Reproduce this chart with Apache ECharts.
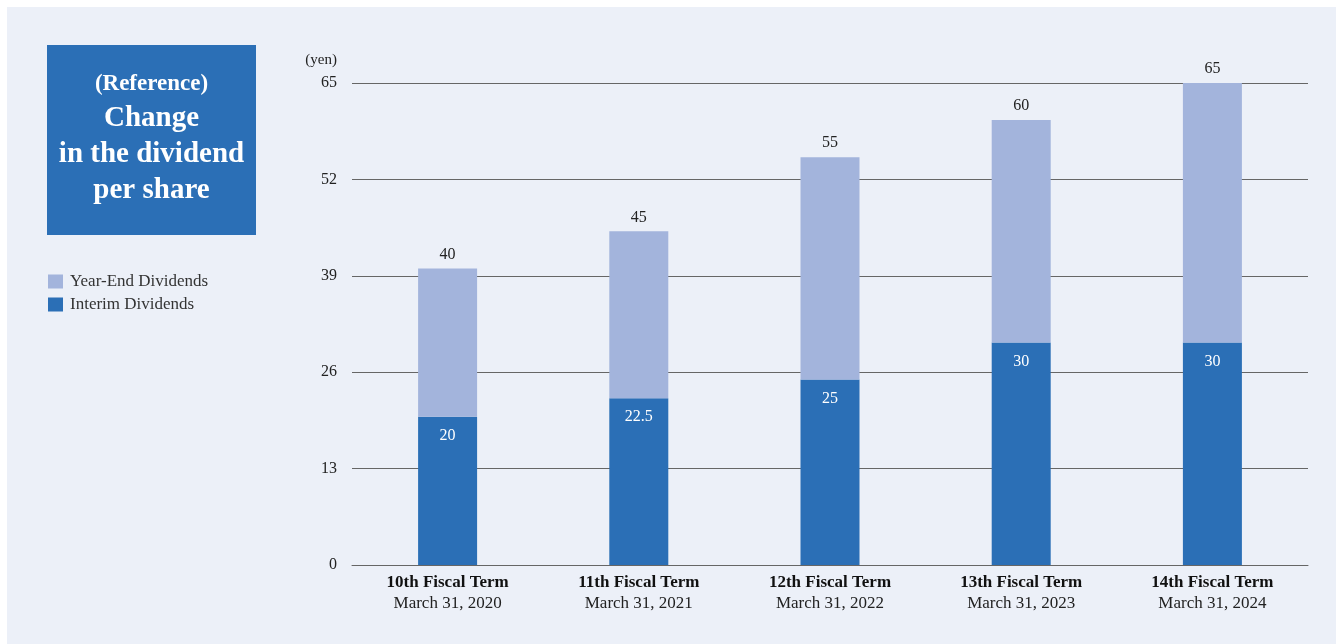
<!DOCTYPE html>
<html><head><meta charset="utf-8">
<script src="https://cdn.jsdelivr.net/npm/echarts@6/dist/echarts.min.js"></script>
<style>
html,body{margin:0;padding:0;background:#ffffff;}
#panel{position:absolute;left:7px;top:7px;width:1329px;height:637px;background:#ecf0f8;}
#chart{position:absolute;left:0;top:0;width:1336px;height:644px;}
</style></head>
<body>
<div id="panel"></div>
<div id="chart"></div>
<script>
const terms = ['10th Fiscal Term','11th Fiscal Term','12th Fiscal Term','13th Fiscal Term','14th Fiscal Term'];
const dates = ['March 31, 2020','March 31, 2021','March 31, 2022','March 31, 2023','March 31, 2024'];
const interim = [20, 22.5, 25, 30, 30];
const yearEnd = [20, 22.5, 30, 30, 35];
const totals = [40, 45, 55, 60, 65];
const yTicks = [0, 13, 26, 39, 52, 65];
const seriesNames = ['Interim Dividends', 'Year-End Dividends'];

const FONT = "'Liberation Serif','Times New Roman',serif";
const chart = echarts.init(document.getElementById('chart'), null, {renderer:'canvas'});
chart.setOption({
  backgroundColor: 'transparent',
  animation: false,
  textStyle: {fontFamily: FONT},
  grid: {left: 352, right: 28, top: 83, bottom: 79},
  legend: {
    orient: 'vertical', left: 48, top: 273, padding: 0, itemWidth: 15, itemHeight: 14, itemGap: 6,
    icon: 'rect',
    data: [seriesNames[1], seriesNames[0]],
    textStyle: {fontFamily: FONT, fontSize: 17, color: '#333', padding: [0,0,0,2]}
  },
  graphic: [
    {type:'rect', left: 47, top: 45, shape:{width:209, height:190}, style:{fill:'#2b6fb6'}},
    {type:'text', x:151.5, y:84, style:{text:'(Reference)', fill:'#fff', font:'bold 23px '+FONT, align:'center', verticalAlign:'middle'}},
    {type:'text', x:151.5, y:119, style:{text:'Change', fill:'#fff', font:'bold 29px '+FONT, align:'center', verticalAlign:'middle'}},
    {type:'text', x:151.5, y:155, style:{text:'in the dividend', fill:'#fff', font:'bold 29px '+FONT, align:'center', verticalAlign:'middle'}},
    {type:'text', x:151.5, y:191, style:{text:'per share', fill:'#fff', font:'bold 29px '+FONT, align:'center', verticalAlign:'middle'}},
    {type:'text', x:337, y:60, style:{text:'(yen)', fill:'#222', font:'15px '+FONT, align:'right', verticalAlign:'middle'}}
  ],
  xAxis: {
    type: 'category',
    data: terms,
    axisLine: {lineStyle: {color: '#666', width: 1}},
    axisTick: {show: false},
    axisLabel: {
      margin: 7,
      formatter: (v, i) => '{b|' + v + '}\n{d|' + dates[i] + '}',
      rich: {
        b: {fontFamily: FONT, fontSize: 17, fontWeight: 'bold', color: '#111', lineHeight: 21},
        d: {fontFamily: FONT, fontSize: 17, color: '#222', lineHeight: 21}
      }
    }
  },
  yAxis: {
    type: 'value', min: 0, max: 65, interval: 13,
    axisLine: {show: false}, axisTick: {show: false},
    axisLabel: {margin: 15, fontFamily: FONT, fontSize: 16, color: '#222',
      formatter: v => yTicks.includes(v) ? String(v) : ''},
    splitLine: {lineStyle: {color: '#666', width: 1}}
  },
  series: [
    {
      name: seriesNames[0], type: 'bar', stack: 'd', data: interim, barWidth: 59,
      itemStyle: {color: '#2b6fb6'},
      label: {show: true, position: 'insideTop', distance: 11, color: '#fff', fontFamily: FONT, fontSize: 16}
    },
    {
      name: seriesNames[1], type: 'bar', stack: 'd', data: yearEnd, barWidth: 59,
      itemStyle: {color: '#a3b4dc'},
      label: {show: true, position: 'top', distance: 6, color: '#222', fontFamily: FONT, fontSize: 16,
        formatter: p => String(totals[p.dataIndex])}
    }
  ]
});
</script>
</body></html>
